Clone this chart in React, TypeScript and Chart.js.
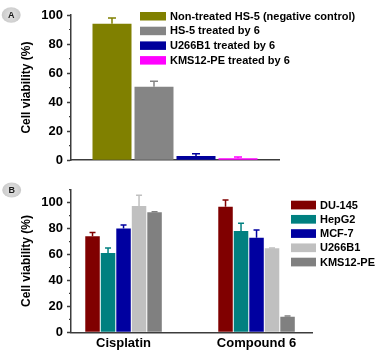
import React, { useEffect, useRef } from 'react';
import { Chart, registerables } from 'chart.js';

Chart.register(...registerables);

const FONT = '"Liberation Sans", Arial, Helvetica, sans-serif';
const AXIS_COLOR = '#3c3c3c';
const TEXT_COLOR = '#000000';

// ---------- Panel A data ----------
const seriesA = [
  'Non-treated HS-5 (negative control)',
  'HS-5 treated by 6',
  'U266B1 treated by 6',
  'KMS12-PE treated by 6',
];
const valuesA = [94.0, 50.6, 2.9, 1.3];
const errorsA = [4.0, 3.7, 1.5, 0.9];
const colorsA = ['#808000', '#858585', '#00009C', '#FF00FF'];

// ---------- Panel B data ----------
const categoriesB = ['Cisplatin', 'Compound 6'];
const seriesB = ['DU-145', 'HepG2', 'MCF-7', 'U266B1', 'KMS12-PE'];
const du145Values = [74.1, 96.9];
const du145Errors = [2.8, 5.2];
const hepg2Values = [61.2, 78.2];
const hepg2Errors = [3.8, 5.9];
const mcf7Values = [80.0, 73.0];
const mcf7Errors = [2.8, 6.0];
const u266b1Values = [97.5, 64.8];
const u266b1Errors = [8.2, 0.3];
const kms12peValues = [92.6, 12.0];
const kms12peErrors = [0.3, 0.5];
const colorsB = ['#800000', '#008080', '#0000A0', '#C0C0C0', '#808080'];

const valuesB = [du145Values, hepg2Values, mcf7Values, u266b1Values, kms12peValues];
const errorsB = [du145Errors, hepg2Errors, mcf7Errors, u266b1Errors, kms12peErrors];

// ---------- plugins ----------
const errorBarPlugin = {
  id: 'errorBars',
  afterDatasetsDraw(chart: any, _args: any, opts: any) {
    const { ctx } = chart;
    const yScale = chart.scales.y;
    chart.data.datasets.forEach((ds: any, di: number) => {
      if (!ds.errors) return;
      const meta = chart.getDatasetMeta(di);
      meta.data.forEach((bar: any, i: number) => {
        const v = ds.data[i];
        const e = ds.errors[i];
        if (v == null || e == null) return;
        const x = bar.x;
        const y0 = yScale.getPixelForValue(v);
        const y1 = yScale.getPixelForValue(v + e);
        const cap = opts.cap || 6;
        ctx.save();
        ctx.strokeStyle = ds.backgroundColor;
        ctx.lineWidth = opts.lineWidth || 1.5;
        ctx.beginPath();
        ctx.moveTo(x, y0);
        ctx.lineTo(x, y1);
        ctx.moveTo(x - cap / 2, y1);
        ctx.lineTo(x + cap / 2, y1);
        ctx.stroke();
        ctx.restore();
      });
    });
  },
};

const minorTickPlugin = {
  id: 'minorTicks',
  afterDraw(chart: any, _args: any, opts: any) {
    const { ctx, chartArea } = chart;
    const y = chart.scales.y;
    ctx.save();
    ctx.strokeStyle = AXIS_COLOR;
    ctx.lineWidth = 1.2;
    ctx.beginPath();
    for (let v = y.min; v <= y.max + 1e-6; v += opts.step) {
      if (Math.abs(v % opts.majorStep) < 1e-6) continue;
      const py = y.getPixelForValue(v);
      ctx.moveTo(chartArea.left - opts.length, py);
      ctx.lineTo(chartArea.left, py);
    }
    ctx.stroke();
    ctx.restore();
  },
};

const boxLegendPlugin = {
  id: 'boxLegend',
  afterDraw(chart: any, _args: any, opts: any) {
    const { ctx } = chart;
    ctx.save();
    ctx.font = `bold ${opts.fontSize}px ${FONT}`;
    ctx.textBaseline = 'middle';
    ctx.textAlign = 'left';
    chart.data.datasets.forEach((ds: any, i: number) => {
      const top = opts.y + i * opts.spacing;
      ctx.fillStyle = ds.backgroundColor;
      ctx.fillRect(opts.x, top, opts.boxWidth, opts.boxHeight);
      ctx.fillStyle = TEXT_COLOR;
      ctx.fillText(ds.label, opts.x + opts.boxWidth + opts.gap, top + opts.boxHeight / 2 + 0.5);
    });
    ctx.restore();
  },
};

const badgePlugin = {
  id: 'badge',
  afterDraw(chart: any, _args: any, opts: any) {
    const { ctx } = chart;
    ctx.save();
    const g = ctx.createRadialGradient(opts.cx, opts.cy, 1, opts.cx, opts.cy, opts.rx);
    g.addColorStop(0, '#e2e2e2');
    g.addColorStop(1, '#c9c9c9');
    ctx.fillStyle = g;
    ctx.beginPath();
    ctx.ellipse(opts.cx, opts.cy, opts.rx, opts.ry, 0, 0, Math.PI * 2);
    ctx.fill();
    ctx.fillStyle = '#1a1a1a';
    ctx.font = `bold 9px ${FONT}`;
    ctx.textAlign = 'center';
    ctx.textBaseline = 'middle';
    ctx.fillText(opts.text, opts.cx, opts.cy + 0.5);
    ctx.restore();
  },
};

const tickFont = { family: FONT, size: 13, weight: 'bold' as const };
const titleFont = { family: FONT, size: 12, weight: 'bold' as const };

function yAxis(max: number, titlePad: number) {
  return {
    min: 0,
    max,
    ticks: { stepSize: 20, includeBounds: false, font: tickFont, color: TEXT_COLOR, padding: 4 },
    grid: { drawOnChartArea: false, drawTicks: true, tickLength: 4, tickWidth: 1.5, tickColor: AXIS_COLOR },
    border: { display: true, color: AXIS_COLOR, width: 1.5 },
    title: {
      display: true,
      text: 'Cell viability (%)',
      font: titleFont,
      color: TEXT_COLOR,
      padding: { top: titlePad, bottom: 0 },
    },
    afterFit: (s: any) => {
      s.width = 71;
    },
  };
}

function makeConfigA(): any {
  return {
    type: 'bar',
    data: {
      labels: [''],
      datasets: seriesA.map((label, i) => ({
        label,
        data: [valuesA[i]],
        errors: [errorsA[i]],
        backgroundColor: colorsA[i],
        borderWidth: 0,
        categoryPercentage: 0.8077,
        barPercentage: 0.9286,
      })),
    },
    options: {
      animation: false,
      responsive: false,
      devicePixelRatio: 1,
      layout: { padding: { top: 15, right: 97, bottom: 8, left: 0 } },
      plugins: {
        legend: { display: false },
        tooltip: { enabled: false },
        errorBars: { cap: 8, lineWidth: 1.5 },
        minorTicks: { step: 10, majorStep: 20, length: 2 },
        boxLegend: { x: 140, y: 12, spacing: 14.7, boxWidth: 26, boxHeight: 8.5, gap: 4, fontSize: 11 },
        badge: { cx: 11.2, cy: 15, rx: 9.5, ry: 7.7, text: 'A' },
      },
      scales: {
        x: {
          grid: { display: false, drawTicks: false },
          ticks: { display: false },
          border: { display: true, color: AXIS_COLOR, width: 1.5 },
          afterFit: (s: any) => {
            s.height = 0;
          },
        },
        y: yAxis(100, 19),
      },
    },
    plugins: [errorBarPlugin, minorTickPlugin, boxLegendPlugin, badgePlugin],
  };
}

function makeConfigB(): any {
  return {
    type: 'bar',
    data: {
      labels: categoriesB.map((_, i) => i + 1),
      datasets: seriesB.map((label, i) => ({
        label,
        data: valuesB[i],
        errors: errorsB[i],
        backgroundColor: colorsB[i],
        borderWidth: 0,
        categoryPercentage: 0.583,
        barPercentage: 0.935,
      })),
    },
    options: {
      animation: false,
      responsive: false,
      devicePixelRatio: 1,
      layout: { padding: { top: 17.7, right: 64, bottom: 0, left: 0 } },
      plugins: {
        legend: { display: false },
        tooltip: { enabled: false },
        errorBars: { cap: 6, lineWidth: 1.5 },
        minorTicks: { step: 10, majorStep: 20, length: 2 },
        boxLegend: { x: 291, y: 28.7, spacing: 14.25, boxWidth: 25, boxHeight: 8.7, gap: 4, fontSize: 11 },
        badge: { cx: 11.7, cy: 18, rx: 9.5, ry: 7.5, text: 'B' },
      },
      scales: {
        x: {
          type: 'linear',
          offset: false,
          min: 0.605,
          max: 2.417,
          bounds: 'data',
          grid: { display: false, drawTicks: false, offset: false },
          border: { display: true, color: AXIS_COLOR, width: 1.5 },
          afterBuildTicks: (s: any) => {
            s.ticks = categoriesB.map((_, i) => ({ value: i + 1 }));
          },
          ticks: {
            font: tickFont,
            color: TEXT_COLOR,
            padding: 3,
            autoSkip: false,
            maxRotation: 0,
            callback: (v: any) => categoriesB[Math.round(Number(v)) - 1] ?? '',
          },
          afterFit: (s: any) => {
            s.height = 18.7;
          },
        },
        y: yAxis(110, 19),
      },
    },
    plugins: [errorBarPlugin, minorTickPlugin, boxLegendPlugin, badgePlugin],
  };
}

function ChartCanvas({ make, width, height }: { make: () => any; width: number; height: number }) {
  const ref = useRef<HTMLCanvasElement>(null);
  useEffect(() => {
    if (!ref.current) return;
    const chart = new Chart(ref.current, make());
    return () => chart.destroy();
  }, [make]);
  return (
    <canvas
      ref={ref}
      width={width}
      height={height}
      style={{ display: 'block', width: `${width}px`, height: `${height}px` }}
    />
  );
}

export default function App() {
  useEffect(() => {
    document.body.style.margin = '0';
  }, []);
  return (
    <div style={{ position: 'absolute', left: 0, top: 0, width: 376, height: 351, background: '#ffffff' }}>
      <ChartCanvas make={makeConfigA} width={376} height={172} />
      <ChartCanvas make={makeConfigB} width={376} height={179} />
    </div>
  );
}
